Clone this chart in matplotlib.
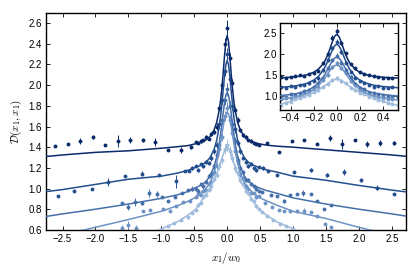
import matplotlib
matplotlib.use("Agg")
import matplotlib.pyplot as plt

plt.rcParams['font.family'] = ['Liberation Sans', 'DejaVu Sans']
plt.rcParams['mathtext.fontset'] = 'cm'
plt.rcParams['xtick.direction'] = 'in'
plt.rcParams['ytick.direction'] = 'in'
plt.rcParams['xtick.top'] = True
plt.rcParams['ytick.right'] = True

colors = ['#0b2a6a', '#244f8e', '#4670aa', '#6d92c4', '#9fbcdd']

# fit curves
fit_x = [-2.75, -2.5, -2.0, -1.5, -1.0, -0.75, -0.6, -0.48, -0.40, -0.32, -0.26, -0.20, -0.16,
         -0.12, -0.10, -0.08, -0.06, -0.04, -0.02, 0.0, 0.02, 0.04, 0.06, 0.08, 0.10, 0.12,
         0.16, 0.20, 0.26, 0.32, 0.40, 0.48, 0.6, 0.75, 1.0, 1.5, 2.0, 2.5, 2.75]
fit1 = [1.31, 1.325, 1.35, 1.365, 1.39, 1.405, 1.415, 1.433, 1.447, 1.471, 1.504, 1.565, 1.638,
        1.761, 1.853, 1.972, 2.12, 2.285, 2.423, 2.48, 2.423, 2.285, 2.12, 1.972, 1.853, 1.761,
        1.638, 1.565, 1.504, 1.471, 1.447, 1.433, 1.42, 1.41, 1.40, 1.375, 1.35, 1.325, 1.31]
fit2 = [0.97, 0.99, 1.04, 1.09, 1.12, 1.15, 1.175, 1.205, 1.224, 1.256, 1.299, 1.376, 1.463,
        1.603, 1.70, 1.819, 1.954, 2.091, 2.198, 2.24, 2.198, 2.091, 1.954, 1.819, 1.70, 1.603,
        1.463, 1.376, 1.299, 1.256, 1.224, 1.205, 1.18, 1.16, 1.12, 1.08, 1.03, 0.985, 0.965]
fit3 = [0.73, 0.755, 0.80, 0.85, 0.905, 0.94, 0.97, 1.008, 1.031, 1.07, 1.122, 1.21, 1.303,
        1.44, 1.528, 1.628, 1.734, 1.832, 1.904, 1.93, 1.904, 1.832, 1.734, 1.628, 1.528, 1.44,
        1.303, 1.21, 1.122, 1.07, 1.031, 1.008, 0.98, 0.955, 0.91, 0.85, 0.80, 0.755, 0.73]
fit4 = [0.51, 0.55, 0.625, 0.70, 0.78, 0.835, 0.875, 0.915, 0.956, 1.002, 1.058, 1.15, 1.242,
        1.367, 1.443, 1.524, 1.604, 1.674, 1.722, 1.74, 1.722, 1.674, 1.604, 1.524, 1.443, 1.367,
        1.242, 1.15, 1.058, 1.002, 0.956, 0.915, 0.88, 0.84, 0.78, 0.71, 0.625, 0.55, 0.51]
fit5 = [0.20, 0.25, 0.36, 0.48, 0.61, 0.68, 0.74, 0.80, 0.87, 0.95, 1.01, 1.08, 1.14,
        1.21, 1.25, 1.29, 1.33, 1.365, 1.39, 1.40, 1.39, 1.365, 1.33, 1.29, 1.25, 1.21,
        1.14, 1.08, 1.01, 0.95, 0.87, 0.80, 0.74, 0.68, 0.61, 0.48, 0.36, 0.25, 0.20]

# inner data points (shared x grid)
in_x = [-0.48, -0.44, -0.40, -0.36, -0.32, -0.28, -0.24, -0.20, -0.16, -0.12, -0.08, -0.04, 0.0,
        0.04, 0.08, 0.12, 0.16, 0.20, 0.24, 0.28, 0.32, 0.36, 0.40, 0.44, 0.48]
in1 = [1.45, 1.44, 1.46, 1.47, 1.50, 1.48, 1.53, 1.55, 1.60, 1.78, 2.00, 2.40, 2.55,
       2.26, 2.02, 1.76, 1.66, 1.57, 1.52, 1.50, 1.47, 1.46, 1.44, 1.43, 1.42]
in2 = [1.22, 1.18, 1.24, 1.22, 1.26, 1.25, 1.30, 1.36, 1.42, 1.62, 1.86, 2.14, 2.30,
       2.06, 1.80, 1.58, 1.44, 1.36, 1.30, 1.26, 1.22, 1.24, 1.20, 1.18, 1.21]
in3 = [1.00, 0.98, 1.04, 1.02, 1.06, 1.12, 1.14, 1.22, 1.32, 1.42, 1.66, 1.86, 1.96,
       1.80, 1.62, 1.46, 1.28, 1.20, 1.16, 1.08, 1.08, 1.04, 1.02, 1.00, 0.98]
in4 = [0.92, 0.95, 0.94, 0.98, 0.99, 1.04, 1.06, 1.16, 1.22, 1.38, 1.50, 1.70, 1.78,
       1.66, 1.54, 1.36, 1.26, 1.14, 1.10, 1.02, 1.00, 0.96, 0.96, 0.92, 0.93]
in5 = [0.79, 0.84, 0.86, 0.92, 0.94, 0.99, 1.02, 1.09, 1.13, 1.22, 1.28, 1.38, 1.42,
       1.36, 1.30, 1.20, 1.15, 1.08, 1.04, 0.98, 0.96, 0.90, 0.88, 0.83, 0.80]
in_err1 = [0.01, 0.01, 0.02, 0.01, 0.02, 0.01, 0.02, 0.02, 0.03, 0.03, 0.04, 0.06, 0.08,
           0.05, 0.04, 0.03, 0.03, 0.02, 0.02, 0.02, 0.01, 0.02, 0.01, 0.01, 0.01]
in_err = [0.01, 0.02, 0.01, 0.02, 0.02, 0.02, 0.03, 0.03, 0.03, 0.04, 0.04, 0.05, 0.06,
          0.05, 0.04, 0.04, 0.03, 0.03, 0.02, 0.02, 0.02, 0.02, 0.01, 0.02, 0.01]

# outer data points
out1_x = [-2.62, -2.42, -2.24, -2.04, -1.85, -1.66, -1.47, -1.28, -1.09, -0.90, -0.70, -0.55,
          0.60, 0.79, 0.99, 1.17, 1.37, 1.56, 1.75, 1.94, 2.13, 2.32, 2.53]
out1_y = [1.41, 1.43, 1.46, 1.50, 1.42, 1.46, 1.47, 1.47, 1.45, 1.37, 1.37, 1.40,
          1.44, 1.35, 1.46, 1.47, 1.43, 1.49, 1.43, 1.47, 1.43, 1.44, 1.44]
out1_e = [0.01, 0.01, 0.03, 0.02, 0.01, 0.06, 0.03, 0.02, 0.04, 0.01, 0.03, 0.02,
          0.01, 0.01, 0.01, 0.01, 0.01, 0.03, 0.05, 0.01, 0.03, 0.03, 0.02]
out2_x = [-2.57, -2.32, -2.06, -1.81, -1.55, -1.29, -1.04, -0.78, -0.64, -0.58, -0.53,
          0.55, 0.62, 0.76, 1.01, 1.27, 1.52, 1.77, 2.03, 2.28, 2.54]
out2_y = [0.93, 0.975, 1.00, 1.06, 1.12, 1.145, 1.135, 1.07, 1.17, 1.17, 1.20,
          1.20, 1.17, 1.135, 1.16, 1.18, 1.13, 1.16, 1.08, 1.01, 0.95]
out2_e = [0.01, 0.01, 0.01, 0.04, 0.01, 0.02, 0.01, 0.06, 0.01, 0.01, 0.02,
          0.02, 0.01, 0.01, 0.01, 0.02, 0.02, 0.03, 0.02, 0.02, 0.01]
out3_x = [-1.59, -1.50, -1.40, -1.30, -1.19, -1.07, -0.99, -0.90, -0.79, -0.69, -0.59, -0.53,
          0.53, 0.66, 0.76, 0.86, 0.96, 1.06, 1.15, 1.27, 1.37, 1.47, 1.57]
out3_y = [0.86, 0.82, 0.87, 0.86, 0.96, 0.95, 0.92, 0.88, 0.92, 0.96, 0.99, 1.00,
          0.97, 0.94, 0.93, 0.88, 0.94, 0.95, 0.96, 0.95, 0.88, 0.80, 0.84]
out3_e = [0.01, 0.03, 0.04, 0.02, 0.04, 0.03, 0.01, 0.01, 0.01, 0.01, 0.01, 0.02,
          0.01, 0.01, 0.01, 0.02, 0.01, 0.01, 0.03, 0.01, 0.01, 0.01, 0.01]
out4_x = [-1.59, -1.51, -1.38, -1.28, -1.17, -0.97, -0.87, -0.77, -0.67, -0.57,
          0.57, 0.68, 0.78, 0.86, 0.96, 1.06, 1.16, 1.27, 1.37, 1.48, 1.57]
out4_y = [0.62, 0.65, 0.62, 0.78, 0.79, 0.80, 0.78, 0.83, 0.87, 0.88,
          0.86, 0.82, 0.79, 0.78, 0.78, 0.785, 0.78, 0.77, 0.73, 0.66, 0.63]
out4_e = [0.03, 0.04, 0.03, 0.01, 0.01, 0.01, 0.01, 0.01, 0.01, 0.01,
          0.01, 0.01, 0.01, 0.01, 0.02, 0.02, 0.03, 0.01, 0.01, 0.01, 0.01]
out5_x = [-1.0, -0.9, -0.8, -0.7, -0.6, -0.53, 0.53, 0.6, 0.7, 0.8, 0.9, 1.0]
out5_y = [0.60, 0.64, 0.67, 0.70, 0.72, 0.76, 0.77, 0.73, 0.70, 0.66, 0.64, 0.61]
out5_e = [0.01, 0.01, 0.01, 0.01, 0.01, 0.01, 0.01, 0.01, 0.01, 0.01, 0.01, 0.01]

fits = [fit1, fit2, fit3, fit4, fit5]
inners = [in1, in2, in3, in4, in5]
inner_errs = [in_err1, in_err, in_err, in_err, in_err]
outers = [(out1_x, out1_y, out1_e), (out2_x, out2_y, out2_e), (out3_x, out3_y, out3_e),
          (out4_x, out4_y, out4_e), (out5_x, out5_y, out5_e)]

fig = plt.figure(figsize=(4.15, 2.67), dpi=100)
ax = fig.add_axes([0.111, 0.139, 0.868, 0.813])
axin = fig.add_axes([0.675, 0.588, 0.284, 0.326])


def draw(a):
    for i in range(5):
        c = colors[i]
        ox, oy, oe = outers[i]
        xs = list(ox) + list(in_x)
        ys = list(oy) + list(inners[i])
        es = list(oe) + list(inner_errs[i])
        a.errorbar(xs, ys, yerr=es, fmt='o', color=c, ms=2.8, mew=0, elinewidth=0.7,
                   capsize=0, zorder=2 + i * 0.01)
        a.plot(fit_x, fits[i], color=c, lw=1.1, zorder=3)


draw(ax)
draw(axin)

ax.set_xlim(-2.75, 2.72)
ax.set_ylim(0.6, 2.7)
ax.set_xticks([-2.5, -2.0, -1.5, -1.0, -0.5, 0.0, 0.5, 1.0, 1.5, 2.0, 2.5])
ax.set_yticks([0.6, 0.8, 1.0, 1.2, 1.4, 1.6, 1.8, 2.0, 2.2, 2.4, 2.6])
ax.set_xticklabels(['\u22122.5', '\u22122.0', '\u22121.5', '\u22121.0', '\u22120.5', '0.0',
                    '0.5', '1.0', '1.5', '2.0', '2.5'])
ax.tick_params(labelsize=7, length=3, width=0.6, pad=3)
ax.set_xlabel(r'$x_1/w_0$', fontsize=8, labelpad=4)
ax.set_ylabel(r'$\mathcal{D}(x_1, x_1)$', fontsize=8, labelpad=3)

axin.set_xlim(-0.49, 0.53)
axin.set_ylim(0.66, 2.75)
axin.set_xticks([-0.4, -0.2, 0.0, 0.2, 0.4])
axin.set_xticklabels(['\u22120.4', '\u22120.2', '0.0', '0.2', '0.4'])
axin.set_yticks([1.0, 1.5, 2.0, 2.5])
axin.tick_params(labelsize=7, length=3, width=0.6, pad=2)

for a in (ax, axin):
    for s in a.spines.values():
        s.set_linewidth(1.0)

fig.savefig('out.png', dpi=100)
